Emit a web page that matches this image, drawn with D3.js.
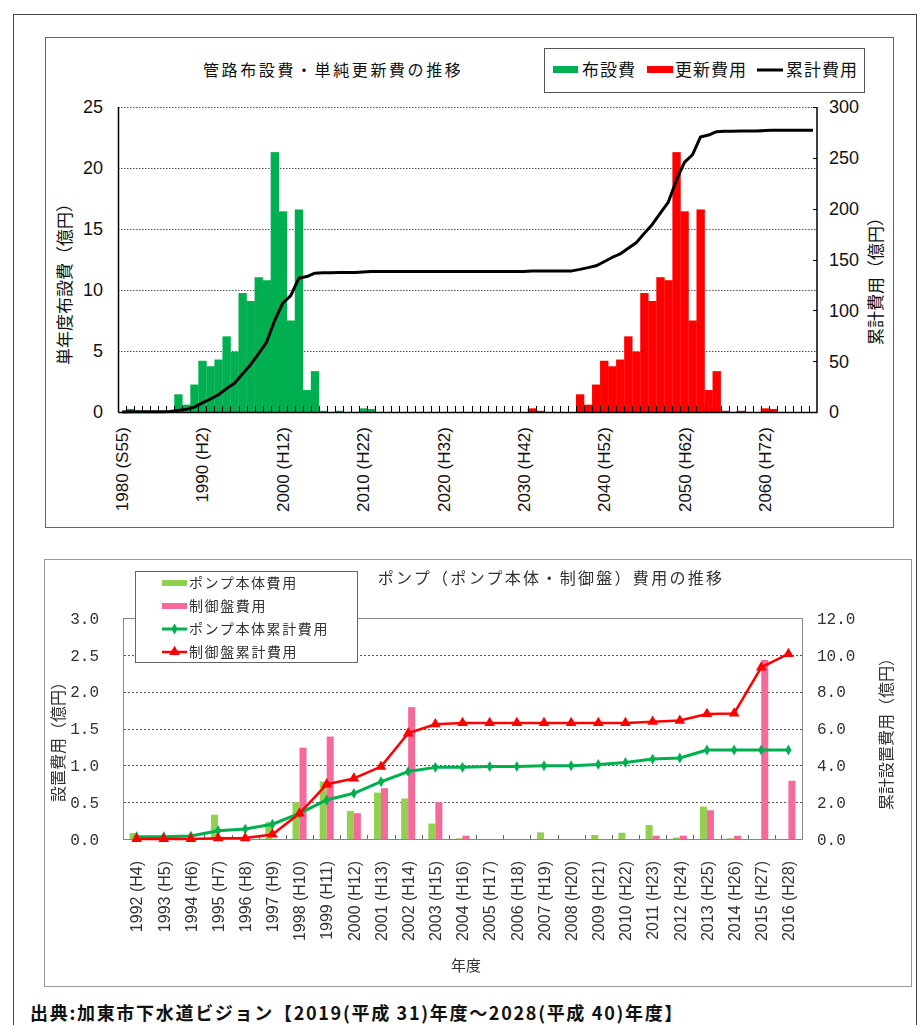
<!DOCTYPE html>
<html lang="ja">
<head>
<meta charset="utf-8">
<script src="https://cdn.jsdelivr.net/npm/d3@7"></script>
<style>
  html, body { margin: 0; padding: 0; background: #fff; }
  svg { display: block; }
</style>
</head>
<body>
<svg id="page" width="922" height="1025"></svg>
<script>
// ---------- 管路布設費・単純更新費の推移 (1980–2066) ----------
const pipeYears = d3.range(1980, 2067);

// 布設費 (億円/年)
const layingCost = [
  0, 0.25, 0, 0, 0, 0, 0, 1.45, 0.6, 2.25,
  4.2, 3.75, 4.3, 6.2, 4.95, 9.75, 9.1, 11.05, 10.8, 21.3,
  16.45, 7.5, 16.6, 1.8, 3.35, 0.1, 0, 0.1, 0, 0,
  0.3, 0.25, 0, 0, 0, 0, 0, 0, 0, 0,
  0, 0, 0, 0, 0, 0, 0, 0, 0, 0,
  0, 0, 0, 0, 0, 0, 0, 0, 0, 0,
  0, 0, 0, 0, 0, 0, 0, 0, 0, 0,
  0, 0, 0, 0, 0, 0, 0, 0, 0, 0,
  0, 0, 0, 0, 0, 0, 0
];

// 更新費用 (億円/年)
const renewalCost = [
  0, 0, 0, 0, 0, 0, 0, 0, 0, 0,
  0, 0, 0, 0, 0, 0, 0, 0, 0, 0,
  0, 0, 0, 0, 0, 0, 0, 0, 0, 0,
  0, 0, 0, 0, 0, 0, 0, 0, 0, 0,
  0, 0, 0, 0, 0, 0, 0, 0, 0, 0,
  0, 0.3, 0.1, 0, 0, 0, 0, 1.45, 0.6, 2.25,
  4.2, 3.75, 4.3, 6.2, 4.95, 9.75, 9.1, 11.05, 10.8, 21.3,
  16.45, 7.5, 16.6, 1.8, 3.35, 0.1, 0, 0.1, 0, 0,
  0.3, 0.25, 0, 0, 0, 0, 0
];

// 累計費用 (億円)
const pipeCumulative = [
  0, 0.3, 0.3, 0.3, 0.3, 0.3, 0.4, 1.6, 2.6, 4.8,
  9.0, 12.8, 17.0, 23.0, 28.2, 37.5, 46.5, 57.5, 68.8, 90.0,
  107.0, 114.5, 131.5, 133.2, 136.5, 137.0, 137.0, 137.2, 137.2, 137.2,
  137.8, 138.2, 138.2, 138.2, 138.2, 138.2, 138.2, 138.2, 138.2, 138.2,
  138.2, 138.2, 138.2, 138.2, 138.2, 138.2, 138.2, 138.2, 138.2, 138.2,
  138.2, 138.6, 138.8, 138.8, 138.8, 138.8, 138.8, 140.3, 142.0, 143.8,
  147.8, 152.0, 155.5, 161.0, 166.5, 175.7, 184.5, 195.5, 206.5, 228.0,
  245.5, 253.0, 270.5, 272.4, 275.7, 276.2, 276.2, 276.4, 276.4, 276.4,
  276.8, 277.1, 277.2, 277.2, 277.2, 277.2, 277.2
];

const pipeTickYears  = [1980, 1990, 2000, 2010, 2020, 2030, 2040, 2050, 2060];
const pipeTickLabels = ["1980 (S55)", "1990 (H2)", "2000 (H12)", "2010 (H22)", "2020 (H32)",
                        "2030 (H42)", "2040 (H52)", "2050 (H62)", "2060 (H72)"];
const pipeLeftTicks  = [0, 5, 10, 15, 20, 25];
const pipeRightTicks = [0, 50, 100, 150, 200, 250, 300];

// ---------- ポンプ（ポンプ本体・制御盤）費用の推移 (1992–2016) ----------
const pumpYears  = d3.range(1992, 2017);
const pumpLabels = pumpYears.map(y => `${y} (H${y - 1988})`);

// ポンプ本体費用 (億円/年)
const pumpBodyCost = [
  0.08, 0, 0, 0.33, 0, 0.23, 0.5, 0.78, 0.38, 0.63,
  0.55, 0.21, 0.01, 0, 0, 0.09, 0, 0.055, 0.085, 0.19,
  0.02, 0.44, 0.01, 0, 0
];
// 制御盤費用 (億円/年)
const panelCost = [
  0, 0, 0, 0, 0, 0, 1.24, 1.39, 0.35, 0.69,
  1.79, 0.5, 0.045, 0, 0, 0, 0, 0, 0, 0.045,
  0.045, 0.39, 0.045, 2.43, 0.79
];
// ポンプ本体累計費用 (億円)
const pumpBodyCumulative = [
  0.12, 0.12, 0.16, 0.45, 0.54, 0.8, 1.39, 2.12, 2.48, 3.11,
  3.66, 3.89, 3.89, 3.93, 3.93, 3.98, 3.98, 4.05, 4.16, 4.34,
  4.4, 4.83, 4.83, 4.83, 4.83
];
// 制御盤累計費用 (億円)
const panelCumulative = [
  0, 0, 0, 0.04, 0.05, 0.25, 1.39, 2.97, 3.29, 3.93,
  5.74, 6.23, 6.3, 6.3, 6.3, 6.3, 6.3, 6.3, 6.3, 6.37,
  6.43, 6.79, 6.82, 9.32, 10.05
];
const pumpLeftTicks  = [0, 0.5, 1.0, 1.5, 2.0, 2.5, 3.0];
const pumpRightTicks = [0, 2, 4, 6, 8, 10, 12];

// ---------- drawing ----------
const JP  = '"Noto Sans CJK JP", "Noto Sans", sans-serif';
const NUM = '"Liberation Sans Narrow", "Liberation Sans", sans-serif';
const MONO = '"Liberation Mono", "DejaVu Sans Mono", monospace';

const svg = d3.select("#page");

// page frame
svg.append("rect")
  .attr("x", 13.5).attr("y", 14.5).attr("width", 903).attr("height", 1030)
  .attr("fill", "none").attr("stroke", "#444").attr("stroke-width", 1);

// ===== pipe chart =====
const pipeG = svg.append("g");
pipeG.append("rect")
  .attr("x", 45.5).attr("y", 37.5).attr("width", 848).attr("height", 490)
  .attr("fill", "#fff").attr("stroke", "#666");

const px = d3.scaleBand().domain(pipeYears).range([118, 817]).padding(0);
const pyL = d3.scaleLinear().domain([0, 25]).range([412, 107]);
const pyR = d3.scaleLinear().domain([0, 300]).range([412, 107]);

// gridlines
pipeG.append("g").selectAll("line").data(pipeLeftTicks.filter(d => d > 0)).join("line")
  .attr("x1", 118).attr("x2", 817)
  .attr("y1", d => Math.round(pyL(d)) + 0.5).attr("y2", d => Math.round(pyL(d)) + 0.5)
  .attr("stroke", "#555").attr("stroke-width", 1).attr("stroke-dasharray", "1.5,1.5");

// bars
pipeG.append("g").selectAll("rect").data(pipeYears.map((y, i) => ({y, v: layingCost[i]})).filter(d => d.v > 0))
  .join("rect")
  .attr("x", d => px(d.y)).attr("width", px.bandwidth() + 0.3)
  .attr("y", d => pyL(d.v)).attr("height", d => pyL(0) - pyL(d.v))
  .attr("fill", "#00b050");
pipeG.append("g").selectAll("rect").data(pipeYears.map((y, i) => ({y, v: renewalCost[i]})).filter(d => d.v > 0))
  .join("rect")
  .attr("x", d => px(d.y)).attr("width", px.bandwidth() + 0.3)
  .attr("y", d => pyL(d.v)).attr("height", d => pyL(0) - pyL(d.v))
  .attr("fill", "#ff0000");

// axes lines
pipeG.append("line").attr("x1", 118.5).attr("x2", 118.5).attr("y1", 107).attr("y2", 412.5)
  .attr("stroke", "#000").attr("stroke-width", 1.5);
pipeG.append("line").attr("x1", 817).attr("x2", 817).attr("y1", 107).attr("y2", 412.5)
  .attr("stroke", "#000").attr("stroke-width", 1.5);

// bottom axis with inward ticks at category boundaries
const pipeAxis = d3.axisBottom(px).tickSize(0).tickFormat("");
pipeG.append("g").attr("transform", "translate(0,412)").call(pipeAxis)
  .call(g => g.select(".domain").attr("stroke", "#000").attr("stroke-width", 1.5));
pipeG.append("g").selectAll("line").data(pipeYears.slice(1)).join("line")
  .attr("x1", d => Math.round(px(d)) + 0.5).attr("x2", d => Math.round(px(d)) + 0.5)
  .attr("y1", 412).attr("y2", 406).attr("stroke", "#000").attr("stroke-width", 1);

// right axis small ticks
pipeG.append("g").selectAll("line").data(pipeRightTicks).join("line")
  .attr("x1", 813).attr("x2", 817)
  .attr("y1", d => Math.round(pyR(d)) + 0.5).attr("y2", d => Math.round(pyR(d)) + 0.5)
  .attr("stroke", "#000");

// cumulative line
pipeG.append("path")
  .datum(pipeYears.map((y, i) => [y, pipeCumulative[i]]))
  .attr("fill", "none").attr("stroke", "#000").attr("stroke-width", 3)
  .attr("stroke-linejoin", "round")
  .attr("d", d3.line().x(d => px(d[0]) + px.bandwidth() / 2).y(d => pyR(d[1])));

// tick labels
pipeG.append("g").selectAll("text").data(pipeLeftTicks).join("text")
  .attr("x", 103).attr("y", d => pyL(d)).attr("dy", "0.36em")
  .attr("text-anchor", "end").attr("font-family", NUM).attr("font-size", 18)
  .attr("fill", "#111").text(d => d);
pipeG.append("g").selectAll("text").data(pipeRightTicks).join("text")
  .attr("x", 829).attr("y", d => pyR(d)).attr("dy", "0.36em")
  .attr("text-anchor", "start").attr("font-family", NUM).attr("font-size", 18)
  .attr("fill", "#111").text(d => d);
pipeG.append("g").selectAll("text").data(pipeTickYears).join("text")
  .attr("transform", d => `translate(${px(d) + px.bandwidth() / 2},427) rotate(-90)`)
  .attr("dy", "0.36em").attr("text-anchor", "end")
  .attr("font-family", NUM).attr("font-size", 17).attr("fill", "#111")
  .text((d, i) => pipeTickLabels[i]);

// axis titles
pipeG.append("text").attr("transform", "translate(65,280) rotate(-90)")
  .attr("dy", "0.36em").attr("text-anchor", "middle")
  .attr("font-family", JP).attr("font-size", 17).attr("fill", "#111")
  .text("単年度布設費（億円）");
pipeG.append("text").attr("transform", "translate(876,277) rotate(-90)")
  .attr("dy", "0.36em").attr("text-anchor", "middle")
  .attr("font-family", JP).attr("font-size", 17).attr("fill", "#111")
  .text("累計費用（億円）");

// title
pipeG.append("text").attr("x", 203).attr("y", 70).attr("dy", "0.36em")
  .attr("font-family", JP).attr("font-size", 16).attr("letter-spacing", 2.6)
  .attr("fill", "#111").text("管路布設費・単純更新費の推移");

// legend
const lg = pipeG.append("g");
lg.append("rect").attr("x", 544.5).attr("y", 48.5).attr("width", 320).attr("height", 44)
  .attr("fill", "#fff").attr("stroke", "#555");
lg.append("rect").attr("x", 553).attr("y", 66).attr("width", 25).attr("height", 7).attr("fill", "#00b050");
lg.append("text").attr("x", 582).attr("y", 70).attr("dy", "0.36em").attr("font-family", JP)
  .attr("font-size", 17).attr("letter-spacing", 1).attr("fill", "#111").text("布設費");
lg.append("rect").attr("x", 647).attr("y", 66).attr("width", 26).attr("height", 7).attr("fill", "#ff0000");
lg.append("text").attr("x", 675).attr("y", 70).attr("dy", "0.36em").attr("font-family", JP)
  .attr("font-size", 17).attr("letter-spacing", 1).attr("fill", "#111").text("更新費用");
lg.append("line").attr("x1", 757).attr("x2", 783).attr("y1", 70).attr("y2", 70)
  .attr("stroke", "#000").attr("stroke-width", 3);
lg.append("text").attr("x", 786).attr("y", 70).attr("dy", "0.36em").attr("font-family", JP)
  .attr("font-size", 17).attr("letter-spacing", 1).attr("fill", "#111").text("累計費用");

// ===== pump chart =====
const defs = svg.append("defs");
defs.append("filter").attr("id", "soft")
  .append("feGaussianBlur").attr("stdDeviation", 0.35);

const pumpG = svg.append("g").attr("filter", "url(#soft)");
pumpG.append("rect")
  .attr("x", 44.5).attr("y", 559.5).attr("width", 867).attr("height", 427)
  .attr("fill", "#fff").attr("stroke", "#999");

const bx = d3.scaleBand().domain(pumpYears).range([123, 802]).padding(0);
const byL = d3.scaleLinear().domain([0, 3]).range([839, 618]);
const byR = d3.scaleLinear().domain([0, 12]).range([839, 618]);

// plot frame and gridlines
pumpG.append("rect").attr("x", 123.5).attr("y", 618.5).attr("width", 679).attr("height", 221)
  .attr("fill", "none").attr("stroke", "#888");
pumpG.append("g").selectAll("line").data(pumpLeftTicks.filter(d => d > 0 && d < 3)).join("line")
  .attr("x1", 124).attr("x2", 802)
  .attr("y1", d => Math.round(byL(d)) + 0.5).attr("y2", d => Math.round(byL(d)) + 0.5)
  .attr("stroke", "#555").attr("stroke-dasharray", "2,2");
pumpG.append("g").selectAll("line").data(pumpYears.slice(1)).join("line")
  .attr("x1", d => Math.round(bx(d)) + 0.5).attr("x2", d => Math.round(bx(d)) + 0.5)
  .attr("y1", 839).attr("y2", 835).attr("stroke", "#666");

// bars
const bw = 7;
pumpG.append("g").selectAll("rect").data(pumpYears.map((y, i) => ({y, v: pumpBodyCost[i]})).filter(d => d.v > 0))
  .join("rect")
  .attr("x", d => bx(d.y) + bx.bandwidth() / 2 - bw).attr("width", bw)
  .attr("y", d => byL(d.v)).attr("height", d => byL(0) - byL(d.v))
  .attr("fill", "#92d050");
pumpG.append("g").selectAll("rect").data(pumpYears.map((y, i) => ({y, v: panelCost[i]})).filter(d => d.v > 0))
  .join("rect")
  .attr("x", d => bx(d.y) + bx.bandwidth() / 2).attr("width", bw)
  .attr("y", d => byL(d.v)).attr("height", d => byL(0) - byL(d.v))
  .attr("fill", "#f7679b");

// cumulative lines
const cx = y => bx(y) + bx.bandwidth() / 2;
const bodyPts  = pumpYears.map((y, i) => [y, pumpBodyCumulative[i]]);
const panelPts = pumpYears.map((y, i) => [y, panelCumulative[i]]);
const bline = d3.line().x(d => cx(d[0])).y(d => byR(d[1]));

pumpG.append("path").datum(bodyPts).attr("fill", "none").attr("stroke", "#00b050")
  .attr("stroke-width", 3).attr("stroke-linejoin", "round").attr("d", bline);
pumpG.append("g").selectAll("path").data(bodyPts).join("path")
  .attr("transform", d => `translate(${cx(d[0])},${byR(d[1])})`)
  .attr("d", d3.symbol(d3.symbolDiamond, 34)).attr("fill", "#00b050");

pumpG.append("path").datum(panelPts).attr("fill", "none").attr("stroke", "#ff0000")
  .attr("stroke-width", 2.5).attr("stroke-linejoin", "round").attr("d", bline);
pumpG.append("g").selectAll("path").data(panelPts).join("path")
  .attr("transform", d => `translate(${cx(d[0])},${byR(d[1])})`)
  .attr("d", d3.symbol(d3.symbolTriangle, 50)).attr("fill", "#ff0000");

// tick labels
pumpG.append("g").selectAll("text").data(pumpLeftTicks).join("text")
  .attr("x", 99).attr("y", d => byL(d)).attr("dy", "0.36em").attr("text-anchor", "end")
  .attr("font-family", MONO).attr("font-size", 16).attr("fill", "#333")
  .text(d => d.toFixed(1));
pumpG.append("g").selectAll("text").data(pumpRightTicks).join("text")
  .attr("x", 817).attr("y", d => byR(d)).attr("dy", "0.36em").attr("text-anchor", "start")
  .attr("font-family", MONO).attr("font-size", 16).attr("fill", "#333")
  .text(d => d.toFixed(1));
pumpG.append("g").selectAll("text").data(pumpYears).join("text")
  .attr("transform", d => `translate(${cx(d)},861) rotate(-90)`)
  .attr("dy", "0.36em").attr("text-anchor", "end")
  .attr("font-family", NUM).attr("font-size", 16).attr("fill", "#333")
  .text((d, i) => pumpLabels[i]);

// axis titles
pumpG.append("text").attr("transform", "translate(58,738) rotate(-90)")
  .attr("dy", "0.36em").attr("text-anchor", "middle")
  .attr("font-family", JP).attr("font-size", 16).attr("fill", "#333")
  .text("設置費用（億円）");
pumpG.append("text").attr("transform", "translate(886,730) rotate(-90)")
  .attr("dy", "0.36em").attr("text-anchor", "middle")
  .attr("font-family", JP).attr("font-size", 16).attr("fill", "#333")
  .text("累計設置費用（億円）");
pumpG.append("text").attr("x", 466).attr("y", 966).attr("dy", "0.36em").attr("text-anchor", "middle")
  .attr("font-family", JP).attr("font-size", 15).attr("fill", "#333").text("年度");

// title
pumpG.append("text").attr("x", 551).attr("y", 578).attr("dy", "0.36em").attr("text-anchor", "middle")
  .attr("font-family", JP).attr("font-size", 16).attr("letter-spacing", 2.3).attr("fill", "#333")
  .text("ポンプ（ポンプ本体・制御盤）費用の推移");

// legend
const bl = pumpG.append("g");
bl.append("rect").attr("x", 135.5).attr("y", 571.5).attr("width", 222).attr("height", 91)
  .attr("fill", "#fff").attr("stroke", "#666");
const legendItems = [
  {label: "ポンプ本体費用", kind: "bar", color: "#92d050"},
  {label: "制御盤費用", kind: "bar", color: "#f7679b"},
  {label: "ポンプ本体累計費用", kind: "diamond", color: "#00b050"},
  {label: "制御盤累計費用", kind: "triangle", color: "#ff0000"}
];
legendItems.forEach((it, i) => {
  const yy = 583 + i * 23;
  if (it.kind === "bar") {
    bl.append("rect").attr("x", 162).attr("y", yy - 3).attr("width", 25).attr("height", 6).attr("fill", it.color);
  } else {
    bl.append("line").attr("x1", 162).attr("x2", 187).attr("y1", yy).attr("y2", yy)
      .attr("stroke", it.color).attr("stroke-width", it.kind === "diamond" ? 3 : 2.5);
    bl.append("path").attr("transform", `translate(174.5,${yy})`)
      .attr("d", d3.symbol(it.kind === "diamond" ? d3.symbolDiamond : d3.symbolTriangle, it.kind === "diamond" ? 34 : 50))
      .attr("fill", it.color);
  }
  bl.append("text").attr("x", 189).attr("y", yy).attr("dy", "0.36em")
    .attr("font-family", JP).attr("font-size", 14).attr("letter-spacing", 1.6).attr("fill", "#333")
    .text(it.label);
});

// source note
svg.append("text").attr("x", 30).attr("y", 1020)
  .attr("font-family", JP).attr("font-size", 18).attr("font-weight", "bold")
  .attr("letter-spacing", 1.7).attr("fill", "#111")
  .text("出典:加東市下水道ビジョン【2019(平成 31)年度～2028(平成 40)年度】");
</script>
</body>
</html>
